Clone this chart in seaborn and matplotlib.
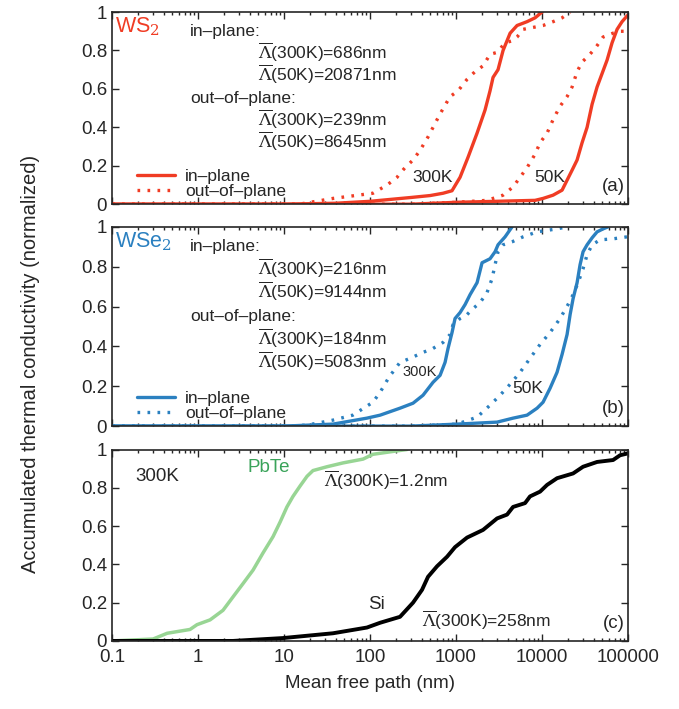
import numpy as np
import pandas as pd
import matplotlib
matplotlib.use("Agg")
import matplotlib.pyplot as plt
import seaborn as sns
from matplotlib.ticker import LogLocator, NullFormatter, FixedLocator

# ---------------- data (mean free path in nm, accumulated normalized k) -------------
# Panel (a) WS2
ws2_300_in_x = [0.1, 10, 40, 100, 300, 500, 706, 897, 1113, 1380, 1755, 2172, 2483, 2692,
                3076, 3520, 4250, 5120, 6690, 8290, 10000]
ws2_300_in_y = [0, 0, 0.005, 0.015, 0.035, 0.045, 0.057, 0.07, 0.14, 0.245, 0.37, 0.49, 0.59,
                0.66, 0.70, 0.80, 0.89, 0.93, 0.95, 0.97, 1.0]
ws2_300_out_x = [0.1, 15, 37, 108, 158, 206, 223, 255, 316, 381, 472, 540, 652, 852, 1055,
                 1343, 1663, 2060, 2484, 2998, 3714, 4478, 5119, 6010, 7855, 10270, 13430,
                 17090, 21190]
ws2_300_out_y = [0, 0, 0.03, 0.057, 0.10, 0.14, 0.16, 0.19, 0.23, 0.28, 0.35, 0.40, 0.47,
                 0.56, 0.59, 0.65, 0.69, 0.72, 0.78, 0.79, 0.84, 0.85, 0.87, 0.91, 0.92,
                 0.93, 0.95, 0.97, 1.0]
ws2_50_in_x = [0.1, 300, 1028, 8290, 10270, 13430, 17090, 19540, 22340, 25540, 29200, 33380,
               38160, 43620, 49870, 57010, 65170, 74500, 85170, 97370, 100000]
ws2_50_in_y = [0, 0, 0.01, 0.02, 0.03, 0.047, 0.073, 0.125, 0.177, 0.23, 0.32, 0.40, 0.52,
               0.61, 0.68, 0.75, 0.84, 0.91, 0.95, 0.98, 0.985]
ws2_50_out_x = [0.1, 300, 1028, 2290, 3520, 4600, 5550, 6690, 8290, 9480, 11430, 13430,
                16190, 19540, 22340, 25540, 29200, 34270, 41300, 51170, 66910, 80700, 100000]
ws2_50_out_y = [0, 0, 0.01, 0.02, 0.047, 0.09, 0.14, 0.19, 0.26, 0.32, 0.37, 0.44, 0.51,
                0.56, 0.61, 0.69, 0.74, 0.77, 0.81, 0.87, 0.89, 0.90, 0.90]

# Panel (b) WSe2
wse2_300_in_x = [0.1, 10, 37, 92, 131, 223, 316, 413, 540, 652, 745, 807, 898, 973, 1113,
                 1273, 1456, 1755, 2006, 2484, 2840, 3076, 3714, 4478]
wse2_300_in_y = [0, 0, 0.01, 0.04, 0.055, 0.09, 0.115, 0.155, 0.22, 0.255, 0.32, 0.39, 0.47,
                 0.54, 0.57, 0.61, 0.66, 0.72, 0.82, 0.84, 0.875, 0.91, 0.95, 1.0]
wse2_300_out_x = [0.1, 10, 18.5, 37, 63, 108, 131, 171, 183, 223, 292, 413, 540, 706, 852,
                  923, 1113, 1343, 1577, 1903, 2290, 2622, 2840, 3076, 3520, 4478, 6010,
                  8750, 14930, 19540]
wse2_300_out_y = [0, 0, 0.005, 0.03, 0.055, 0.12, 0.17, 0.255, 0.27, 0.32, 0.34, 0.37, 0.39,
                  0.42, 0.46, 0.51, 0.54, 0.56, 0.59, 0.62, 0.67, 0.74, 0.81, 0.875, 0.91,
                  0.925, 0.95, 0.975, 0.99, 1.0]
wse2_50_in_x = [0.1, 300, 1028, 2998, 4600, 6690, 8750, 10270, 12390, 14930, 17090, 19540,
                21190, 22950, 25540, 27660, 29960, 33380, 38160, 43620, 51170, 58480]
wse2_50_in_y = [0, 0, 0.01, 0.02, 0.04, 0.055, 0.09, 0.12, 0.19, 0.27, 0.36, 0.46, 0.56,
                0.64, 0.72, 0.81, 0.875, 0.91, 0.945, 0.975, 0.99, 1.0]
wse2_50_out_x = [0.1, 300, 1028, 1755, 2484, 3251, 4250, 5550, 7244, 9480, 12390, 16190,
                 20050, 22950, 26230, 29960, 33380, 38160, 47200, 66910, 97370]
wse2_50_out_y = [0, 0, 0.01, 0.045, 0.105, 0.155, 0.21, 0.27, 0.34, 0.41, 0.47, 0.54, 0.61,
                 0.66, 0.72, 0.79, 0.86, 0.91, 0.935, 0.94, 0.95]

# Panel (c) 300K
pbte_x = [0.1, 0.30, 0.437, 0.807, 0.973, 1.38, 1.95, 2.55, 3.34, 4.36, 5.70, 7.45, 8.98,
          10.8, 12.7, 15.4, 18.5, 21.7, 31.6, 48.5, 83, 108, 185, 269]
pbte_y = [0, 0.01, 0.04, 0.06, 0.085, 0.11, 0.16, 0.23, 0.30, 0.37, 0.46, 0.545, 0.62, 0.70,
          0.755, 0.81, 0.86, 0.89, 0.91, 0.93, 0.95, 0.975, 0.99, 1.0]
si_x = [0.1, 2.55, 9.7, 37, 92, 131, 223, 316, 402, 472, 601, 786, 973, 1343, 2060, 2998,
        3917, 4600, 6340, 7244, 9480, 11430, 14930, 22950, 29960, 43620, 66910, 80700, 100000]
si_y = [0, 0, 0.015, 0.04, 0.07, 0.095, 0.126, 0.2, 0.267, 0.335, 0.39, 0.44, 0.49, 0.54,
        0.58, 0.64, 0.66, 0.70, 0.72, 0.755, 0.78, 0.815, 0.85, 0.875, 0.91, 0.935, 0.945,
        0.97, 0.98]

xticks = [0.1, 1, 10, 100, 1000, 10000, 100000]
xticklabels = ["0.1", "1", "10", "100", "1000", "10000", "100000"]
yticks = [0, 0.2, 0.4, 0.6, 0.8, 1.0]
yticklabels = ["0", "0.2", "0.4", "0.6", "0.8", "1"]

RED = "#f03c24"
BLUE = "#2b80c0"
GREEN = "#98d594"
GREEN_TXT = "#3aa35a"

sns.set_style("ticks")
plt.rcParams["font.family"] = ["Liberation Sans", "DejaVu Sans"]
plt.rcParams["mathtext.fontset"] = "dejavuserif"

fig = plt.figure(figsize=(6.79, 7.09), dpi=100)
L, W = 0.165, 0.760
ax_a = fig.add_axes([L, 0.712, W, 0.271])
ax_b = fig.add_axes([L, 0.399, W, 0.281])
ax_c = fig.add_axes([L, 0.096, W, 0.270])

DOT = (0, (0.8, 2.2))
LW = 2.4


def curve(ax, x, y, color, ls="-", label=None, lw=LW):
    df = pd.DataFrame({"x": x, "y": y})
    sns.lineplot(data=df, x="x", y="y", ax=ax, color=color, lw=lw, linestyle=ls,
                 label=label, estimator=None, sort=False)


curve(ax_a, ws2_300_in_x, ws2_300_in_y, RED, "-", "in\u2013plane")
curve(ax_a, ws2_300_out_x, ws2_300_out_y, RED, DOT, "out\u2013of\u2013plane")
curve(ax_a, ws2_50_in_x, ws2_50_in_y, RED, "-")
curve(ax_a, ws2_50_out_x, ws2_50_out_y, RED, DOT)

curve(ax_b, wse2_300_in_x, wse2_300_in_y, BLUE, "-", "in\u2013plane")
curve(ax_b, wse2_300_out_x, wse2_300_out_y, BLUE, DOT, "out\u2013of\u2013plane")
curve(ax_b, wse2_50_in_x, wse2_50_in_y, BLUE, "-")
curve(ax_b, wse2_50_out_x, wse2_50_out_y, BLUE, DOT)

curve(ax_c, pbte_x, pbte_y, GREEN, "-", lw=2.5)
curve(ax_c, si_x, si_y, "black", "-", lw=2.8)

FS = 13.5
for ax in (ax_a, ax_b, ax_c):
    ax.set_xscale("log")
    ax.set_xlim(0.1, 100000)
    ax.set_ylim(0, 1)
    ax.set_xlabel("")
    ax.set_ylabel("")
    ax.set_yticks(yticks)
    ax.set_yticklabels(yticklabels, fontsize=FS)
    ax.xaxis.set_major_locator(FixedLocator(xticks))
    ax.xaxis.set_minor_locator(LogLocator(base=10, subs=np.arange(2, 10), numticks=20))
    ax.xaxis.set_minor_formatter(NullFormatter())
    ax.tick_params(which="both", direction="in", top=True, right=True, width=1.0)
    ax.tick_params(which="major", length=5)
    ax.tick_params(which="minor", length=2.5)
    for s in ax.spines.values():
        s.set_linewidth(1.2)
    if ax is not ax_c:
        ax.set_xticklabels([])
    else:
        ax.set_xticklabels(xticklabels, fontsize=FS)
        ax.tick_params(axis="x", pad=6)

ax_c.set_xlabel("Mean free path (nm)", fontsize=13.5, labelpad=6)
fig.text(0.045, 0.487, "Accumulated thermal conductivity (normalized)", rotation=90,
         ha="center", va="center", fontsize=14.5)

LAM = r"$\overline{\Lambda}$"
TFS = 12.5


def block(ax, name, color, lines):
    ax.text(0.005, 0.925, name, transform=ax.transAxes, color=color, fontsize=15.5,
            va="center", ha="left")
    ax.text(0.151, 0.9, "in\u2013plane:", transform=ax.transAxes, fontsize=TFS,
            va="center")
    ax.text(0.283, 0.79, LAM + lines[0], transform=ax.transAxes, fontsize=TFS, va="center")
    ax.text(0.283, 0.675, LAM + lines[1], transform=ax.transAxes, fontsize=TFS, va="center")
    ax.text(0.151, 0.55, "out\u2013of\u2013plane:", transform=ax.transAxes, fontsize=TFS,
            va="center")
    ax.text(0.283, 0.44, LAM + lines[2], transform=ax.transAxes, fontsize=TFS, va="center")
    ax.text(0.283, 0.325, LAM + lines[3], transform=ax.transAxes, fontsize=TFS, va="center")
    ax.legend(loc="lower left", bbox_to_anchor=(0.025, -0.035), frameon=False,
              fontsize=TFS, handlelength=2.2, handletextpad=0.55, labelspacing=0.0,
              borderaxespad=0.3)


block(ax_a, "WS$_2$", RED, ["(300K)=686nm", "(50K)=20871nm", "(300K)=239nm",
                             "(50K)=8645nm"])
block(ax_b, "WSe$_2$", BLUE, ["(300K)=216nm", "(50K)=9144nm", "(300K)=184nm",
                               "(50K)=5083nm"])

ax_a.text(0.622, 0.14, "300K", transform=ax_a.transAxes, fontsize=TFS, ha="center",
          va="center")
ax_a.text(0.848, 0.14, "50K", transform=ax_a.transAxes, fontsize=TFS, ha="center",
          va="center")
ax_a.text(0.993, 0.09, "(a)", transform=ax_a.transAxes, fontsize=FS, ha="right",
          va="center")

ax_b.text(0.597, 0.27, "300K", transform=ax_b.transAxes, fontsize=10.5, ha="center",
          va="center")
ax_b.text(0.805, 0.19, "50K", transform=ax_b.transAxes, fontsize=TFS, ha="center",
          va="center")
ax_b.text(0.993, 0.09, "(b)", transform=ax_b.transAxes, fontsize=FS, ha="right",
          va="center")

ax_c.text(0.046, 0.86, "300K", transform=ax_c.transAxes, fontsize=FS, ha="left",
          va="center")
ax_c.text(0.262, 0.905, "PbTe", transform=ax_c.transAxes, fontsize=FS, ha="left",
          va="center", color=GREEN_TXT)
ax_c.text(0.41, 0.84, LAM + "(300K)=1.2nm", transform=ax_c.transAxes, fontsize=TFS,
          ha="left", va="center")
ax_c.text(0.497, 0.19, "Si", transform=ax_c.transAxes, fontsize=FS, ha="left",
          va="center")
ax_c.text(0.6, 0.11, LAM + "(300K)=258nm", transform=ax_c.transAxes, fontsize=TFS,
          ha="left", va="center")
ax_c.text(0.993, 0.09, "(c)", transform=ax_c.transAxes, fontsize=FS, ha="right",
          va="center")

fig.savefig("out.png", dpi=100)
